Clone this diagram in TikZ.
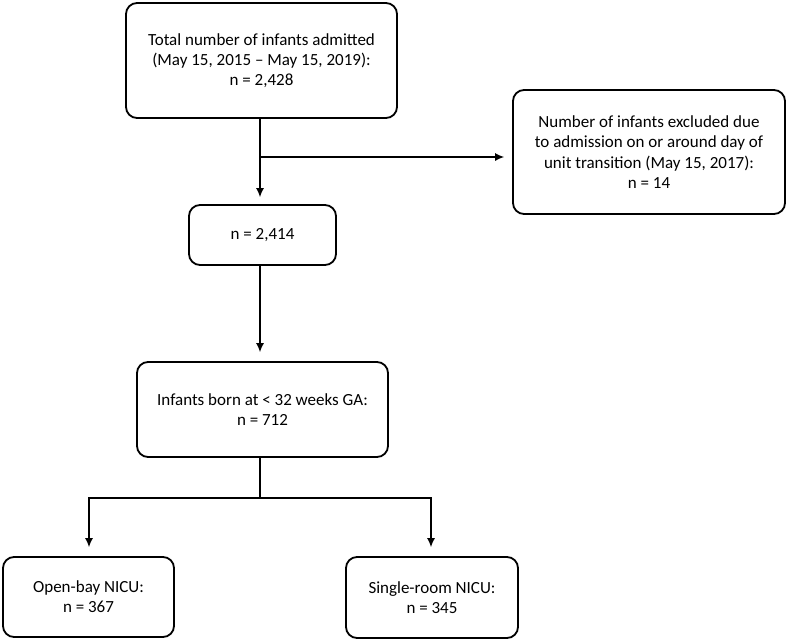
\documentclass[tikz,border=0pt]{standalone}
\usepackage{fontspec}
\setmainfont{Carlito}
\usetikzlibrary{calc, arrows.meta, positioning}
\usepackage{xcolor}

\begin{document}
\begin{tikzpicture}[auto, x=1pt, y=-1pt, >={Latex[length=9pt,width=8pt]}]
				\tikzstyle{box} = [draw=black, line width=1.8pt, rounded corners=11pt, align=center, inner sep=0pt, font=\fontsize{17}{20.3}\selectfont]
				\tikzstyle{link} = [line width=1.2pt]
				
				\useasboundingbox (0,0) rectangle (787,643);
				
				\node[box, minimum width=271pt, minimum height=115pt] at (261.5, 60.5)	(total)		{Total number of infants admitted\\(May 15, 2015 -- May 15, 2019):\\n = 2,428};
				\node[box, minimum width=272pt, minimum height=124pt] at (649, 152)		(excluded)	{Number of infants excluded due\\to admission on or around day of\\unit transition (May 15, 2017):\\n = 14};
				\node[box, minimum width=147pt, minimum height=60pt] at (262.5, 235)	(eligible)	{n = 2,414};
				\node[box, minimum width=251pt, minimum height=95pt] at (262.5, 409.5)	(preterm)	{Infants born at < 32 weeks GA:\\n = 712};
				\node[box, minimum width=171pt, minimum height=80pt] at (88.5, 597)		(openbay)	{Open-bay NICU:\\n = 367};
				\node[box, minimum width=172pt, minimum height=81pt] at (432, 597.5)	(single)	{Single-room NICU:\\n = 345};
				
				\coordinate (split1) at (260, 157);
				\coordinate (split2) at (260, 498);
				
				\draw[link, ->, shorten >=7pt] (total.south -| split1) -- (eligible.north -| split1);
				\draw[link, ->, shorten >=8pt] (split1) -- (excluded.west |- split1);
				\draw[link, ->, shorten >=9pt] (eligible.south -| split1) -- (preterm.north -| split1);
				\draw[link] (preterm.south -| split2) -- (split2);
				\draw[link, ->, shorten >=9pt] (split2) -| ($(openbay.north)+(0.5,0)$);
				\draw[link, ->, shorten >=9pt] (split2) -| ($(single.north)+(-1,0)$);
			\end{tikzpicture}
\end{document}
